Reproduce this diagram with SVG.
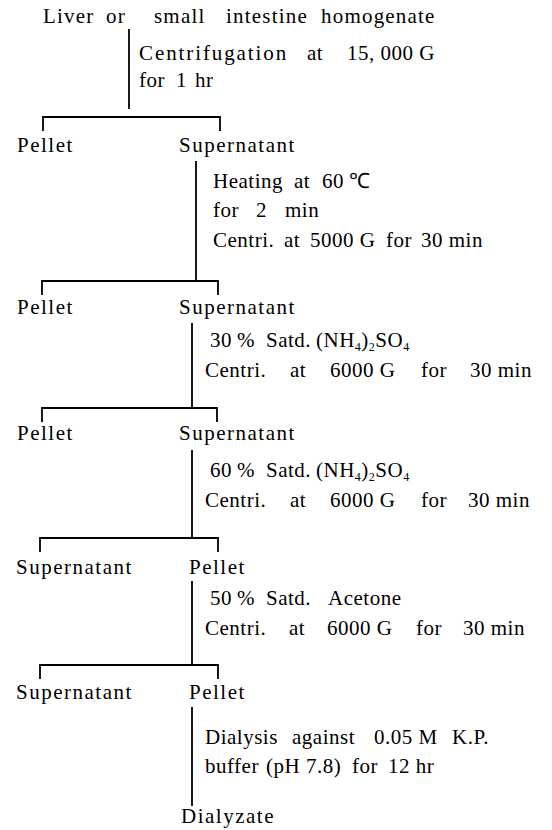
<svg xmlns="http://www.w3.org/2000/svg" width="552" height="830" viewBox="0 0 552 830">
<style>
.t{font-family:"Liberation Serif","Times New Roman",serif;font-size:21px;fill:#000;letter-spacing:0.5px}
.n{font-family:"Liberation Serif","Times New Roman",serif;font-size:21px;fill:#000;letter-spacing:1.5px}
.c{stroke:#000;stroke-width:1.8;fill:none;stroke-linecap:square}
.s{font-size:12px}
</style>
<rect width="552" height="830" fill="#fff"/>
<g id="connectors">
<path class="c" d="M129,30 V108"/>
<path class="c" d="M43,130 V117 H220 V130"/>
<path class="c" d="M196,162 V281"/>
<path class="c" d="M42,294 V281 H218 V294"/>
<path class="c" d="M192,324 V408"/>
<path class="c" d="M42,421 V408 H217 V421"/>
<path class="c" d="M192,451 V538"/>
<path class="c" d="M40,551 V538 H218 V551"/>
<path class="c" d="M192,582 V665"/>
<path class="c" d="M40,678 V665 H218 V678"/>
<path class="c" d="M192,708 V805"/>
</g>
<g id="homogenate"><text class="t" y="23" style="letter-spacing:1.2px"><tspan x="43">Liver</tspan> <tspan x="106">or</tspan> <tspan x="154">small</tspan> <tspan x="226">intestine</tspan> <tspan x="321">homogenate</tspan></text></g>
<g id="step1">
<text class="t" y="60"><tspan x="139" style="letter-spacing:1.9px">Centrifugation</tspan> <tspan x="307">at</tspan> <tspan x="347">15, 000 G</tspan></text>
<text class="t" y="87"><tspan x="139">for</tspan> <tspan x="176">1</tspan> <tspan x="195">hr</tspan></text>
</g>
<g id="pellet1"><text class="n" x="17" y="152">Pellet</text></g>
<g id="supernatant1"><text class="n" x="179" y="152">Supernatant</text></g>
<g id="step2">
<text class="t" y="188"><tspan x="213">Heating</tspan> <tspan x="294">at</tspan> <tspan x="322">60</tspan> <tspan x="349">℃</tspan></text>
<text class="t" y="217"><tspan x="213">for</tspan> <tspan x="256">2</tspan> <tspan x="285">min</tspan></text>
<text class="t" y="247"><tspan x="213">Centri.</tspan> <tspan x="284">at</tspan> <tspan x="310">5000 G</tspan> <tspan x="386">for</tspan> <tspan x="421">30 min</tspan></text>
</g>
<g id="pellet2"><text class="n" x="17" y="314">Pellet</text></g>
<g id="supernatant2"><text class="n" x="179" y="314">Supernatant</text></g>
<g id="step3">
<text class="t" y="347"><tspan x="210">30</tspan> <tspan x="237">%</tspan> <tspan x="266">Satd.</tspan> <tspan x="316">(NH</tspan><tspan class="s" dy="4">4</tspan><tspan dy="-4">)</tspan><tspan class="s" dy="4">2</tspan><tspan dy="-4">SO</tspan><tspan class="s" dy="4">4</tspan></text>
<text class="t" y="377"><tspan x="205">Centri.</tspan> <tspan x="290">at</tspan> <tspan x="330">6000 G</tspan> <tspan x="421">for</tspan> <tspan x="470">30 min</tspan></text>
</g>
<g id="pellet3"><text class="n" x="17" y="440">Pellet</text></g>
<g id="supernatant3"><text class="n" x="179" y="440">Supernatant</text></g>
<g id="step4">
<text class="t" y="477"><tspan x="210">60</tspan> <tspan x="237">%</tspan> <tspan x="266">Satd.</tspan> <tspan x="316">(NH</tspan><tspan class="s" dy="4">4</tspan><tspan dy="-4">)</tspan><tspan class="s" dy="4">2</tspan><tspan dy="-4">SO</tspan><tspan class="s" dy="4">4</tspan></text>
<text class="t" y="507"><tspan x="205">Centri.</tspan> <tspan x="290">at</tspan> <tspan x="330">6000 G</tspan> <tspan x="421">for</tspan> <tspan x="468">30 min</tspan></text>
</g>
<g id="supernatant4"><text class="n" x="16" y="574">Supernatant</text></g>
<g id="pellet4"><text class="n" x="189" y="574">Pellet</text></g>
<g id="step5">
<text class="t" y="605"><tspan x="210">50</tspan> <tspan x="237">%</tspan> <tspan x="266">Satd.</tspan> <tspan x="328">Acetone</tspan></text>
<text class="t" y="635"><tspan x="205">Centri.</tspan> <tspan x="289">at</tspan> <tspan x="327">6000 G</tspan> <tspan x="416">for</tspan> <tspan x="463">30 min</tspan></text>
</g>
<g id="supernatant5"><text class="n" x="16" y="699">Supernatant</text></g>
<g id="pellet5"><text class="n" x="189" y="699">Pellet</text></g>
<g id="step6">
<text class="t" y="744"><tspan x="205">Dialysis</tspan> <tspan x="292">against</tspan> <tspan x="374">0.05 M</tspan> <tspan x="452">K.P.</tspan></text>
<text class="t" y="773"><tspan x="205">buffer</tspan> <tspan x="266">(pH 7.8)</tspan> <tspan x="352">for</tspan> <tspan x="388">12 hr</tspan></text>
</g>
<g id="dialyzate"><text class="n" x="181" y="823">Dialyzate</text></g>
</svg>
